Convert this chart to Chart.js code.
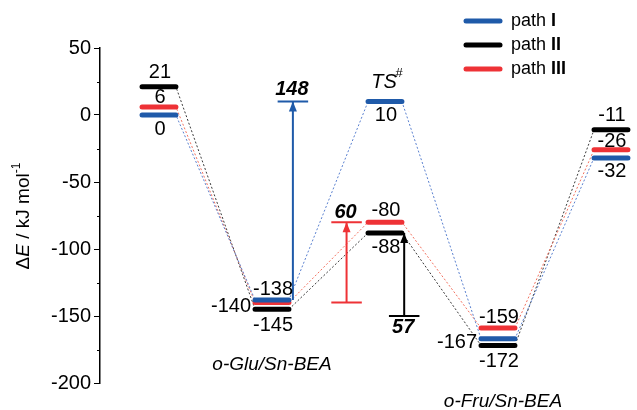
<!DOCTYPE html>
<html>
<head>
<meta charset="utf-8">
<script src="https://cdn.jsdelivr.net/npm/chart.js@4.4.1/dist/chart.umd.min.js"></script>
<style>
  body { margin: 0; background: #fff; }
  #box { width: 637px; height: 410px; }
</style>
</head>
<body>
<div id="box"><canvas id="myChart"></canvas></div>
<script>
// energies (kJ/mol) at each stage of the reaction
let stages = ['', 'o-Glu/Sn-BEA', 'TS', 'o-Fru/Sn-BEA', ''];
let pathNames = ['I', 'II', 'III'];
let pathI = [0, -138, 10, -167, -32];
let pathII = [21, -145, -88, -172, -11];
let pathIII = [6, -140, -80, -159, -26];
let yTicks = [50, 0, -50, -100, -150, -200];
// barriers drawn as arrows: from, to
let barrierI = [-138, 10];
let barrierII = [-150, -88];
let barrierIII = [-140, -80];
let barrierLabels = ['148', '57', '60'];

let blue = '#1f5aa9', black = '#000000', red = '#ee3236';
let blueDash = '#5a80cf', blackDash = '#3a3a3a', redDash = '#f27260';
let font = 'Liberation Sans, Arial, sans-serif';
let hw = 0.15;     // half width of a level, in stage units
let capW = 0.135;  // half width of an arrow cap
let arrowX = [1.185, 2.17, 1.66];

// where the number of each level goes: a = above, b = below, l = left; dy in px
let spotsI = [['b', 14], ['a', -10], ['b', 14], ['l', 4], ['b', 14]];
let spotsII = [['a', -14], ['b', 16], ['b', 15], ['b', 16], ['a', -14]];
let spotsIII = [['a', -9], ['l', 4], ['a', -12], ['a', -11], ['a', -8]];

function levels(vals){
    let d = [];
    vals.forEach(function(v, i){ d.push({x: i - hw, y: v}, {x: i + hw, y: v}, {x: i + 0.5, y: null}); });
    return d;
}
function links(vals){
    let d = [];
    vals.forEach(function(v, i){ d.push({x: i - hw, y: v}, {x: i + hw, y: v}); });
    return d;
}
function arrowData(x, b, capFrom, capTo){
    let d = [{x: x, y: b[0]}, {x: x, y: b[1]}];
    if (capTo) d.push({x: x, y: null}, {x: x - capW, y: b[1]}, {x: x + capW, y: b[1]});
    if (capFrom) d.push({x: x, y: null}, {x: x - capW, y: b[0]}, {x: x + capW, y: b[0]});
    return d;
}

function txt(ctx, s, x, y, f, align){
    ctx.font = f;
    ctx.textAlign = align || 'center';
    ctx.textBaseline = 'middle';
    ctx.fillText(s, x, y);
}

const drawText = {
    id: 'drawText',
    afterDraw(chart){
        let ctx = chart.ctx, xs = chart.scales.x, ys = chart.scales.y;
        ctx.save();
        ctx.fillStyle = '#000';
        ctx.strokeStyle = '#000';
        // tick labels and minor ticks
        yTicks.forEach(function(t){ txt(ctx, String(t), 91, ys.getPixelForValue(t), '20px ' + font, 'right'); });
        ctx.lineWidth = 1;
        for (let v = 25; v > -200; v -= 50){
            let p = Math.round(ys.getPixelForValue(v)) + 0.5;
            ctx.beginPath(); ctx.moveTo(97, p); ctx.lineTo(100, p); ctx.stroke();
        }
        // y title
        ctx.save();
        ctx.translate(24, 216);
        ctx.rotate(-Math.PI / 2);
        let parts = [['\u0394', '19px ' + font, 0], ['E', 'italic 19px ' + font, 0], [' / kJ mol', '19px ' + font, 0], ['-1', '12px ' + font, -7]];
        let w = 0;
        parts.forEach(function(p){ ctx.font = p[1]; w += ctx.measureText(p[0]).width; });
        let sx = -w / 2;
        parts.forEach(function(p){ txt(ctx, p[0], sx, p[2], p[1], 'left'); sx += ctx.measureText(p[0]).width; });
        ctx.restore();

        // level numbers
        [[pathI, spotsI], [pathII, spotsII], [pathIII, spotsIII]].forEach(function(ps){
            ps[0].forEach(function(v, i){
                let s = ps[1][i], py = ys.getPixelForValue(v) + s[1];
                if (s[0] === 'l') txt(ctx, String(v), xs.getPixelForValue(i - hw) - 4, py, '20px ' + font, 'right');
                else txt(ctx, String(v), xs.getPixelForValue(i) + 1, py, '20px ' + font, 'center');
            });
        });

        // TS#
        let tx = xs.getPixelForValue(2);
        txt(ctx, 'TS', tx - 1, 82, 'italic 20px ' + font, 'center');
        txt(ctx, '#', tx + 14, 73, 'italic 13px ' + font, 'center');
        // stage names
        txt(ctx, stages[1], xs.getPixelForValue(1), chart.chartArea.bottom - 18, 'italic 19px ' + font, 'center');
        txt(ctx, stages[3], xs.getPixelForValue(3) + 5, chart.chartArea.bottom + 19, 'italic 19px ' + font, 'center');

        // barrier arrows: heads and numbers
        [[barrierI, blue, -12], [barrierII, black, 11], [barrierIII, red, -10]].forEach(function(b, k){
            let x = xs.getPixelForValue(arrowX[k]), top = ys.getPixelForValue(b[0][1]);
            ctx.fillStyle = b[1];
            ctx.beginPath(); ctx.moveTo(x, top); ctx.lineTo(x - 4, top + 10); ctx.lineTo(x + 4, top + 10); ctx.closePath(); ctx.fill();
            ctx.fillStyle = '#000';
            let ly = k === 1 ? ys.getPixelForValue(b[0][0]) + b[2] : top + b[2];
            txt(ctx, barrierLabels[k], x - 1, ly, 'italic bold 20px ' + font, 'center');
        });

        // legend
        [blue, black, red].forEach(function(c, k){
            let y = 21 + k * 24;
            ctx.strokeStyle = c; ctx.lineWidth = 5; ctx.lineCap = 'round';
            ctx.beginPath(); ctx.moveTo(466, y); ctx.lineTo(500, y); ctx.stroke();
            ctx.fillStyle = '#000';
            txt(ctx, 'path ', 511, y, '18px ' + font, 'left');
            ctx.font = '18px ' + font;
            let pw = ctx.measureText('path ').width;
            txt(ctx, pathNames[k], 511 + pw, y, 'bold 18px ' + font, 'left');
        });
        ctx.restore();
    }
};

let levelStyle = {borderWidth: 5, borderCapStyle: 'round', pointRadius: 0, spanGaps: false, clip: false};
let linkStyle = {borderWidth: 1, borderDash: [2, 2], pointRadius: 0, clip: false};
let arrowStyle = {borderWidth: 2, pointRadius: 0, spanGaps: false, clip: false};

let ctx = document.getElementById('myChart').getContext('2d');
let myChart = new Chart(ctx, {
    type: 'line',
    data: {
        datasets: [
            Object.assign({data: levels(pathI), borderColor: blue, order: 1}, levelStyle),
            Object.assign({data: levels(pathIII), borderColor: red, order: 2}, levelStyle),
            Object.assign({data: levels(pathII), borderColor: black, order: 3}, levelStyle),
            Object.assign({data: arrowData(arrowX[0], barrierI, false, true), borderColor: blue, order: 0}, arrowStyle),
            Object.assign({data: arrowData(arrowX[1], barrierII, true, false), borderColor: black, order: 0}, arrowStyle),
            Object.assign({data: arrowData(arrowX[2], barrierIII, true, true), borderColor: red, order: 0}, arrowStyle),
            Object.assign({data: links(pathI), borderColor: blueDash, order: 4}, linkStyle),
            Object.assign({data: links(pathIII), borderColor: redDash, order: 5}, linkStyle),
            Object.assign({data: links(pathII), borderColor: blackDash, order: 6}, linkStyle)
        ]
    },
    options: {
        responsive: true,
        maintainAspectRatio: false,
        animation: false,
        layout: {padding: {left: 0, right: 5, top: 48, bottom: 27}},
        plugins: {legend: {display: false}, tooltip: {enabled: false}},
        scales: {
            x: {type: 'linear', display: false, min: -0.522, max: 4.186},
            y: {
                min: -200, max: 50,
                afterFit: function(s){ s.width = 100; },
                ticks: {display: false, stepSize: 50},
                border: {color: '#000', width: 1.5},
                grid: {drawOnChartArea: false, drawTicks: true, tickLength: 6, color: '#000', lineWidth: 1}
            }
        }
    },
    plugins: [drawText]
});
</script>
</body>
</html>
